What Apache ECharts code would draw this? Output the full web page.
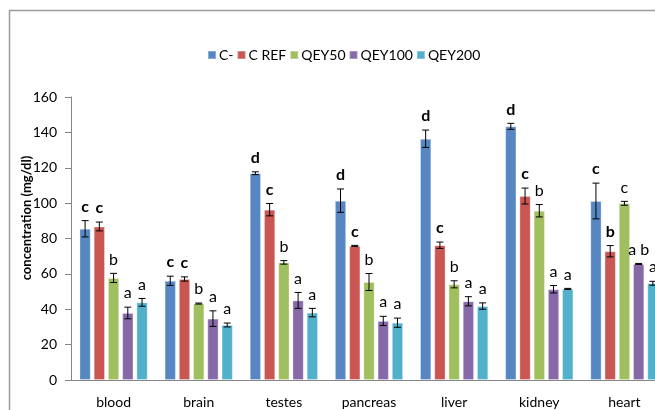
<!DOCTYPE html>
<html>
<head>
<meta charset="utf-8">
<script src="https://cdn.jsdelivr.net/npm/echarts@6/dist/echarts.min.js"></script>
<style>
  html, body { margin: 0; padding: 0; background: #fff; overflow: hidden; width: 655px; height: 410px; }
  #chart { width: 670px; height: 410px; }
</style>
</head>
<body>
<div id="chart"></div>
<script>
// Tissue groups on the x axis
const tissues = ['blood', 'brain', 'testes', 'pancreas', 'liver', 'kidney', 'heart'];
const groupNames = ['C-', 'C REF', 'QEY50', 'QEY100', 'QEY200'];

// Mean concentration (mg/dl) per group
const cMinus  = [85.5, 56.1, 116.9, 101.4, 136.4, 143.4, 101.2];
const cRef    = [86.8, 57.1, 96.3, 75.8, 76.2, 104.0, 72.8];
const qey50   = [57.7, 43.2, 66.5, 55.4, 54.1, 95.7, 99.9];
const qey100  = [37.9, 34.7, 45.0, 33.4, 44.5, 51.3, 65.6];
const qey200  = [43.9, 31.1, 38.1, 32.4, 41.8, 51.5, 54.7];

// Standard errors
const cMinusErr = [4.6, 2.6, 0.8, 6.6, 4.9, 1.7, 10.1];
const cRefErr   = [2.5, 1.2, 3.5, 0.3, 1.8, 4.5, 3.2];
const qey50Err  = [2.6, 0.3, 1.0, 4.8, 2.0, 3.5, 1.1];
const qey100Err = [3.3, 4.4, 4.5, 2.6, 2.6, 2.1, 0.3];
const qey200Err = [2.2, 1.1, 2.4, 2.6, 1.8, 0.3, 1.1];

// Significance letters
const cMinusSig = ['c', 'c', 'd', 'd', 'd', 'd', 'c'];
const cRefSig   = ['c', 'c', 'c', 'c', 'c', 'c', 'b'];
const qey50Sig  = ['b', 'b', 'b', 'b', 'b', 'b', 'c'];
const qey100Sig = ['a', 'a', 'a', 'a', 'a', 'a', 'a b'];
const qey200Sig = ['a', 'a', 'a', 'a', 'a', 'a', 'a'];

// Y axis ticks
const yMin = 0, yMax = 160, yStep = 20;

const means = [cMinus, cRef, qey50, qey100, qey200];
const errs = [cMinusErr, cRefErr, qey50Err, qey100Err, qey200Err];
const sigs = [cMinusSig, cRefSig, qey50Sig, qey100Sig, qey200Sig];
const colors = ['#5787c3', '#c95653', '#a0bf5f', '#8769a8', '#51b0ca'];
const boldSig = [true, true, false, false, false];

const BAR_W = 11.3;
const BAR_GAP = 0.26;
const STEP = BAR_W * (1 + BAR_GAP);
const FONT = 'Lato, "Liberation Sans", sans-serif';

const barSeries = groupNames.map((name, s) => ({
  name: name,
  type: 'bar',
  data: means[s],
  barWidth: BAR_W,
  barGap: (BAR_GAP * 100) + '%',
  itemStyle: { color: colors[s], borderColor: 'rgba(255,255,255,0.3)', borderWidth: 1 },
  emphasis: { disabled: true },
  z: 2
}));

// Error bars and letters for every bar
const errData = [];
const errLetters = [];
const errBold = [];
for (let s = 0; s < groupNames.length; s++) {
  for (let i = 0; i < tissues.length; i++) {
    errData.push([i, s, means[s][i], errs[s][i]]);
    errLetters.push(sigs[s][i]);
    errBold.push(boldSig[s]);
  }
}

const errSeries = {
  type: 'custom',
  name: 'err',
  data: errData,
  encode: { x: 0, y: 2 },
  z: 5,
  silent: true,
  renderItem: function (params, api) {
    const idx = api.value(0), s = api.value(1), v = api.value(2), e = api.value(3);
    const x = api.coord([idx, v])[0] + (s - 2) * STEP;
    const top = api.coord([idx, v + e])[1];
    const bot = api.coord([idx, v - e])[1];
    const cap = 3.5;
    const ls = { stroke: '#000', lineWidth: 1 };
    return {
      type: 'group',
      children: [
        { type: 'line', shape: { x1: x, y1: top, x2: x, y2: bot }, style: ls },
        { type: 'line', shape: { x1: x - cap, y1: top, x2: x + cap, y2: top }, style: ls },
        { type: 'line', shape: { x1: x - cap, y1: bot, x2: x + cap, y2: bot }, style: ls },
        {
          type: 'text',
          x: x, y: top - 14,
          style: {
            text: errLetters[params.dataIndex],
            fill: '#000',
            font: (errBold[params.dataIndex] ? 'bold ' : '') + '16px ' + FONT,
            align: 'center',
            verticalAlign: 'middle'
          }
        }
      ]
    };
  }
};

const chart = echarts.init(document.getElementById('chart'), null, { renderer: 'canvas' });
chart.setOption({
  animation: false,
  backgroundColor: '#fff',
  textStyle: { fontFamily: FONT },
  graphic: [
    {
      type: 'rect', silent: true, z: -10,
      shape: { x: 9.5, y: 10.5, width: 800, height: 600 },
      style: { fill: 'none', stroke: '#9c9c9c', lineWidth: 1.5 }
    },
    {
      type: 'text', silent: true,
      x: 27, y: 218, rotation: Math.PI / 2,
      style: {
        text: 'concentration (mg/dl)',
        font: 'bold 13px ' + FONT,
        fill: '#000',
        align: 'center',
        verticalAlign: 'middle'
      }
    }
  ],
  legend: {
    data: groupNames,
    left: 202, top: 43,
    icon: 'rect',
    itemWidth: 8, itemHeight: 8,
    itemGap: 3,
    textStyle: { fontSize: 14, color: '#000', fontFamily: FONT, padding: [0, 0, 0, -2] },
    selectedMode: false
  },
  grid: { left: 71, right: 3, top: 97, bottom: 30 },
  xAxis: {
    type: 'category',
    data: tissues,
    axisLine: { lineStyle: { color: '#868686', width: 1 } },
    axisTick: { show: false },
    axisLabel: { color: '#000', fontSize: 14, margin: 15, fontFamily: FONT }
  },
  yAxis: {
    type: 'value',
    min: yMin, max: yMax, interval: yStep,
    axisLine: { show: true, lineStyle: { color: '#868686', width: 1 } },
    axisTick: { show: true, length: 6, lineStyle: { color: '#868686' } },
    splitLine: { show: false },
    axisLabel: { color: '#000', fontSize: 14, margin: 14, fontFamily: FONT }
  },
  series: barSeries.concat([errSeries])
});
</script>
</body>
</html>
